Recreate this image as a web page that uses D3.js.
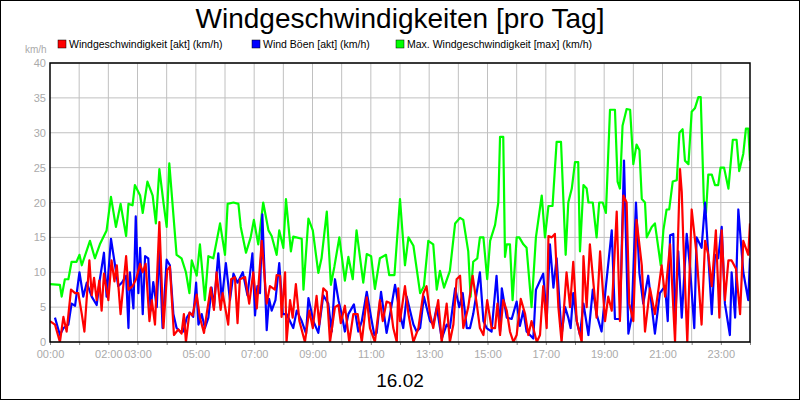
<!DOCTYPE html>
<html><head><meta charset="utf-8">
<script src="https://cdn.jsdelivr.net/npm/d3@7"></script>
<style>body{margin:0;background:#fff}svg{display:block;font-family:"Liberation Sans",Arial,sans-serif}</style>
</head><body><svg id="c" width="800" height="400"></svg>
<script>
const title = "Windgeschwindigkeiten [pro Tag]";
const dateLabel = "16.02";
const unit = "km/h";
const seriesNames = ["Windgeschwindigkeit [akt] (km/h)", "Wind Böen [akt] (km/h)", "Max. Windgeschwindigkeit [max] (km/h)"];
const seriesColors = ["#ff0000", "#0000ff", "#00ff00"];
const yTicks = [0,5,10,15,20,25,30,35,40];
const xTickLabels = {0:"00:00",2:"02:00",3:"03:00",5:"05:00",7:"07:00",9:"09:00",11:"11:00",13:"13:00",15:"15:00",17:"17:00",19:"19:00",21:"21:00",23:"23:00"};

// [hour, km/h]
const maxWind = [[0,8.3],[0.34,8.2],[0.4,6.5],[0.51,9],[0.63,9],[0.74,11.5],[0.91,11.5],[1.01,12.5],[1.09,11],[1.37,14.5],[1.54,12],[1.71,14],[1.94,16],[2.09,20.8],[2.26,16.5],[2.42,19.8],[2.61,15.2],[2.69,19.8],[2.83,19.6],[2.91,22.5],[3.09,21],[3.18,18.5],[3.34,23],[3.52,21],[3.63,17],[3.75,24.8],[3.89,20],[4.0,16.5],[4.09,25.6],[4.34,12.5],[4.51,12],[4.66,10],[4.78,7],[4.86,11.7],[5.03,9.5],[5.14,14],[5.31,6],[5.43,12.3],[5.6,12],[5.83,17],[6.0,12.5],[6.09,19.8],[6.29,20],[6.46,19.8],[6.54,16.5],[6.72,12.8],[6.88,15],[6.99,17.5],[7.14,14],[7.31,20],[7.49,16],[7.6,15.2],[7.77,12.5],[7.86,16],[8.0,13.5],[8.09,20.5],[8.26,13],[8.34,15.1],[8.63,14.8],[8.69,7.5],[8.86,17.7],[9.01,16],[9.2,9.9],[9.31,12],[9.49,18.7],[9.63,8.2],[9.75,10.8],[9.92,15],[10.11,8.8],[10.23,12.2],[10.38,9],[10.51,16],[10.74,8.5],[10.86,12.6],[11.01,12.3],[11.14,7.6],[11.31,12],[11.52,12.5],[11.63,9.6],[11.81,9.6],[12.0,20.5],
[12.17,11],[12.29,15],[12.46,13.8],[12.69,7],[12.82,8],[12.97,14.5],[13.14,14],[13.26,7.5],[13.37,10.2],[13.51,7.8],[13.71,10.2],[13.89,17],[14.06,17.8],[14.17,17.5],[14.34,13],[14.42,6.5],[14.51,11.5],[14.65,12],[14.74,15],[14.86,15],[14.99,9],[15.09,14.5],[15.26,16.8],[15.37,20],[15.43,29.4],[15.54,29.4],[15.6,12.2],[15.66,14],[15.77,14],[15.86,6],[16.0,15],[16.09,15],[16.23,14],[16.34,13.5],[16.51,5],[16.66,15],[16.86,21],[16.97,15],[17.09,19.5],[17.23,19.5],[17.37,28.7],[17.52,28.7],[17.68,12.5],[17.77,20],[17.89,22],[18.0,25.8],[18.11,25.8],[18.17,13],[18.29,22.5],[18.4,22],[18.46,20],[18.61,20],[18.74,15],[18.83,20],[18.95,20],[19.06,18.5],[19.2,33.3],[19.37,33.3],[19.46,23],[19.54,22],[19.63,31],[19.77,33.4],[19.89,33.3],[20.0,25.5],[20.11,28.3],[20.21,27.5],[20.29,20.5],[20.4,20],[20.46,15],[20.63,16.5],[20.74,17],[20.94,11],[21.03,16],[21.14,19],[21.23,19],[21.35,23],[21.49,23.2],[21.58,30],[21.69,30.5],[21.77,26],[21.89,25.5],[22.0,33],[22.11,33.5],[22.23,35.1],[22.31,35.1],[22.42,20],[22.49,18.5],[22.57,24],[22.69,24],[22.8,22.5],[22.91,22.5],[22.99,25],[23.11,25],[23.26,22],[23.41,29],[23.54,29],[23.63,24.5],[23.77,27],[23.86,30.6],[23.94,30.6],[24.0,26]];

const gustWind = [[0.17,3.5],[0.34,1],[0.46,2],[0.63,2.5],[0.74,5.5],[0.86,5.2],[1.01,10],[1.14,6.5],[1.26,8.5],[1.43,6.5],[1.6,5.3],[1.71,9],[1.85,12.8],[1.94,6.5],[2.09,14.8],[2.23,11],[2.34,8],[2.46,8.5],[2.61,9.5],[2.69,2],[2.74,10],[2.86,4.8],[2.94,18],[3.03,7],[3.09,13.5],[3.18,4],[3.26,12.3],[3.37,12],[3.45,4.5],[3.54,8.6],[3.66,5],[3.75,13.5],[3.86,2],[4.0,11.8],[4.11,11],[4.23,4],[4.34,2],[4.46,1.5],[4.57,1.5],[4.69,3.5],[4.8,4.2],[4.91,3.6],[5.01,8.5],[5.09,2.5],[5.2,4],[5.31,2],[5.43,3.5],[5.54,7.8],[5.62,5],[5.77,12.7],[5.89,6],[6.03,11.3],[6.17,6],[6.29,9.8],[6.43,8.5],[6.61,10],[6.77,6.7],[6.94,12.7],[7.03,3.8],[7.11,8],[7.2,7],[7.28,18.3],[7.43,1.7],[7.51,6.2],[7.6,4.5],[7.73,6],[7.86,11.3],[7.98,4],[8.11,4],[8.34,2],[8.46,4.5],[8.63,3],[8.78,1.2],[8.86,6.3],[9.03,3],[9.2,1.3],[9.37,6.7],[9.54,5.5],[9.66,1.5],[9.77,9],[9.89,6],[10.0,4],[10.11,1.5],[10.23,4],[10.42,5.4],[10.57,1.5],[10.69,3],[10.86,7.2],[11.01,3.5],[11.12,1],[11.2,1.3],[11.35,7.2],[11.54,1.3],[11.66,4],[11.83,8.2],[12.0,4],
[12.11,2],[12.23,6.5],[12.46,2.5],[12.57,1.5],[12.69,2],[12.82,6.5],[13.03,3],[13.14,2.5],[13.26,5],[13.43,0.5],[13.6,2.5],[13.71,2],[13.89,7.7],[14.03,5],[14.15,7],[14.29,2],[14.4,2],[14.51,4],[14.74,10],[14.86,3],[14.97,2],[15.14,1.5],[15.31,9.5],[15.43,1.5],[15.49,7.7],[15.66,3.5],[15.83,3.3],[16.0,5.8],[16.11,2.3],[16.23,4.5],[16.34,1.5],[16.57,0.5],[16.66,7.5],[16.91,9.8],[17.03,3.3],[17.14,14],[17.26,7.8],[17.37,12],[17.54,1],[17.66,5],[17.77,3.5],[17.85,2],[17.94,7],[18.06,3],[18.17,1],[18.29,5.5],[18.46,1],[18.61,7.5],[18.74,4],[18.91,1.5],[19.06,8],[19.26,16],[19.37,3.3],[19.54,3.3],[19.68,26],[19.83,1.2],[19.94,3.5],[20.09,20],[20.21,9.8],[20.34,5.5],[20.51,9.5],[20.74,1.2],[20.91,7],[21.09,8],[21.18,3],[21.26,15.3],[21.37,15.5],[21.43,2.5],[21.54,13],[21.66,3.5],[21.83,15.5],[21.94,10.8],[22.09,2],[22.17,15],[22.34,13.5],[22.46,20],[22.69,4],[22.8,12.5],[22.91,12],[23.03,16.5],[23.14,5.5],[23.31,1],[23.37,10],[23.49,3.5],[23.6,19],[23.77,10],[23.94,6],[24.0,12]];

const actWind = [[0,3],[0.17,2.5],[0.34,0],[0.46,3.6],[0.57,1.5],[0.72,7.5],[0.86,7],[0.97,7],[1.09,4],[1.18,1.5],[1.35,11.7],[1.43,6.7],[1.51,9.2],[1.6,6],[1.69,8.8],[1.77,4.5],[1.85,9.8],[2.0,6],[2.11,11.7],[2.21,8.7],[2.29,11],[2.42,4],[2.61,12.3],[2.69,7.5],[2.83,8],[2.95,9],[3.09,11.2],[3.18,10],[3.28,11.2],[3.41,3],[3.49,6],[3.6,2.5],[3.75,17.2],[3.89,2],[4.02,10.3],[4.11,10.8],[4.25,1],[4.4,1.8],[4.51,1.2],[4.59,4],[4.66,0],[4.78,4.2],[4.89,3.8],[5.03,6.8],[5.14,3.5],[5.28,1.3],[5.37,4],[5.51,7.8],[5.62,4.6],[5.71,10],[5.85,4.6],[5.92,7],[6.11,2.5],[6.21,9],[6.34,9.3],[6.43,2.7],[6.51,9],[6.69,9.3],[6.83,5.5],[6.97,10],[7.09,4.8],[7.26,14.5],[7.43,5.5],[7.54,8],[7.71,7.5],[7.77,9.6],[7.89,9.5],[7.94,3.6],[8.06,10],[8.11,0],[8.23,6],[8.32,3.5],[8.43,8.3],[8.55,3],[8.74,0],[8.89,4.5],[9.01,2],[9.14,6.6],[9.23,2.5],[9.37,7.7],[9.49,7.2],[9.6,0],[9.77,5],[9.89,5.3],[9.97,2.7],[10.11,5.2],[10.26,0],[10.4,4],[10.55,4],[10.69,0],[10.86,6.4],[10.97,2],[11.14,0],[11.31,6],[11.41,3],[11.54,5.8],[11.66,5.6],[11.77,2],[11.89,0],[11.94,7.7],
[12.0,3],[12.17,8],[12.29,4],[12.46,0],[12.63,2],[12.8,7],[12.91,8],[13.03,4],[13.14,2],[13.31,6],[13.43,0],[13.6,5.5],[13.71,0],[13.83,2.5],[13.94,9],[14.06,9.5],[14.17,2],[14.34,5],[14.49,9.5],[14.63,5.5],[14.74,2],[14.86,1],[14.99,6],[15.14,2],[15.26,2],[15.34,5.5],[15.43,1],[15.54,6],[15.66,4.5],[15.77,1.5],[15.89,0],[16.0,1],[16.14,6.2],[16.29,4],[16.4,1],[16.51,3],[16.69,0],[16.8,1],[16.91,8],[17.03,2],[17.09,15.2],[17.2,15],[17.31,15.5],[17.43,5],[17.54,0],[17.71,10],[17.83,5],[17.94,11.5],[18.06,3],[18.23,0],[18.29,12.3],[18.4,5],[18.51,14],[18.74,3.5],[18.86,13],[19.03,3],[19.14,6.5],[19.26,4.5],[19.43,18.7],[19.54,3],[19.66,21],[19.77,20],[19.86,5.5],[20.0,3],[20.11,17.5],[20.29,11],[20.4,1.5],[20.57,7.7],[20.74,4],[20.86,7.5],[20.97,11],[21.09,6.5],[21.26,14],[21.43,0],[21.6,24.8],[21.66,21.5],[21.71,15],[21.85,0],[22.0,19],[22.17,12.5],[22.34,2.5],[22.46,14.5],[22.57,12.5],[22.69,8],[22.83,16],[22.95,3.5],[23.03,16],[23.14,6],[23.26,11.7],[23.37,11.7],[23.52,10.5],[23.66,4],[23.77,14.5],[23.94,12.5],[24.0,17]];

const svg = d3.select("#c");
const L=50,R=750,T=63,B=342;
const x = d3.scaleLinear().domain([0,24]).range([L,R]);
const y = d3.scaleLinear().domain([0,40]).range([B,T]);

svg.append("rect").attr("x",0.5).attr("y",0.5).attr("width",799).attr("height",399).attr("fill","#fff").attr("stroke","#000");
svg.append("text").attr("x",400).attr("y",28).attr("text-anchor","middle").attr("font-size",28).text(title);

// legend
const legX=[58,252,396];
seriesNames.forEach((n,i)=>{
  svg.append("rect").attr("x",legX[i]).attr("y",40).attr("width",8).attr("height",8).attr("fill",seriesColors[i]).attr("stroke","#000").attr("stroke-width",0.5);
  svg.append("text").attr("x",legX[i]+11).attr("y",48).attr("font-size",10.5).text(n);
});
svg.append("text").attr("x",25).attr("y",53).attr("font-size",10).attr("fill","#aaa").text(unit);

// grid
const g=svg.append("g");
g.selectAll(".hg").data(yTicks).join("line").attr("x1",L).attr("x2",R).attr("y1",d=>y(d)).attr("y2",d=>y(d)).attr("stroke","#c0c0c0");
g.selectAll(".vg").data(d3.range(1,24)).join("line").attr("x1",d=>x(d)).attr("x2",d=>x(d)).attr("y1",T).attr("y2",B).attr("stroke","#c0c0c0");

// axes
const ya=svg.append("g").attr("transform",`translate(${L},0)`).call(d3.axisLeft(y).tickValues(yTicks).tickSize(0).tickPadding(4));
ya.select(".domain").remove();
ya.selectAll("text").attr("fill","#aaa").attr("font-size",11).attr("font-family","Liberation Sans, Arial");
const xa=svg.append("g").attr("transform",`translate(0,${B})`).call(d3.axisBottom(x).tickValues(d3.range(0,25)).tickSize(3).tickPadding(5).tickFormat(d=>xTickLabels[d]||""));
xa.select(".domain").remove();
xa.selectAll("line").attr("stroke","#888");
xa.selectAll("text").attr("fill","#aaa").attr("font-size",11).attr("font-family","Liberation Sans, Arial");

const line=d3.line().x(d=>x(d[0])).y(d=>y(d[1]));
const clip=svg.append("clipPath").attr("id","cp").append("rect").attr("x",L).attr("y",T).attr("width",R-L).attr("height",B-T);
[[maxWind,2],[gustWind,1],[actWind,0]].forEach(([d,i])=>{
  svg.append("path").datum(d).attr("d",line).attr("fill","none").attr("stroke",seriesColors[i]).attr("stroke-width",2.2).attr("stroke-linejoin","round").attr("clip-path","url(#cp)");
});
svg.append("rect").attr("x",L).attr("y",T).attr("width",R-L).attr("height",B-T).attr("fill","none").attr("stroke","#000").attr("stroke-width",1.5);

svg.append("text").attr("x",400).attr("y",387).attr("text-anchor","middle").attr("font-size",19).text(dateLabel);
</script></body></html>
